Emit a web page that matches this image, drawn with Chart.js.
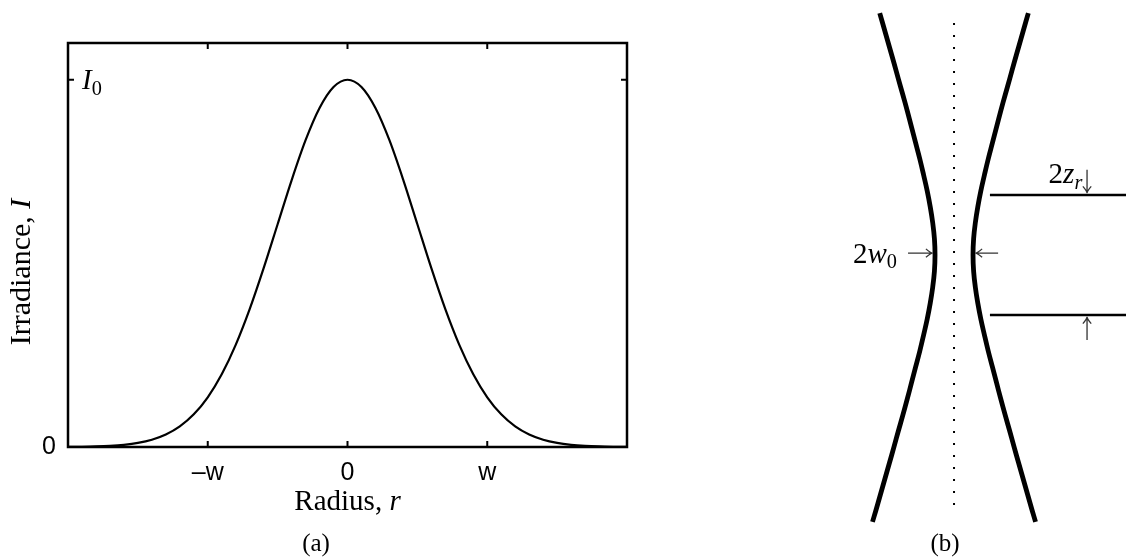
<!DOCTYPE html>
<html><head><meta charset="utf-8">
<script src="https://cdn.jsdelivr.net/npm/chart.js@4.4.1/dist/chart.umd.min.js"></script>
<style>
html,body{margin:0;padding:0;background:#fff;}
body{width:1126px;height:560px;position:relative;overflow:hidden;}
#ca{position:absolute;left:0;top:0;}
#cb{position:absolute;left:760px;top:0;}
</style></head><body>
<canvas id="ca" width="720" height="560"></canvas>
<canvas id="cb" width="366" height="560"></canvas>
<script>
// ---------- Panel (a): Gaussian irradiance profile ----------
const radius = [-2.0,-1.9,-1.8,-1.7,-1.6,-1.5,-1.4,-1.3,-1.2,-1.1,-1.0,-0.9,-0.8,-0.7,-0.6,-0.5,-0.4,-0.3,-0.2,-0.1,0.0,
                0.1,0.2,0.3,0.4,0.5,0.6,0.7,0.8,0.9,1.0,1.1,1.2,1.3,1.4,1.5,1.6,1.7,1.8,1.9,2.0];
const irradiance = [0.0003,0.0007,0.0015,0.0031,0.0060,0.0111,0.0198,0.0340,0.0561,0.0889,0.1353,0.1979,0.2780,0.3753,0.4868,0.6065,0.7261,0.8353,0.9231,0.9802,1.0,
                    0.9802,0.9231,0.8353,0.7261,0.6065,0.4868,0.3753,0.2780,0.1979,0.1353,0.0889,0.0561,0.0340,0.0198,0.0111,0.0060,0.0031,0.0015,0.0007,0.0003];
const xTickValues = [-1, 0, 1];
const xTickLabels = ['\u2013w', '0', 'w'];
const yTickValues = [0, 1];
const yTickLabels = ['0', ''];
const xRange = [-2, 2];
const yRange = [0, 1.1];

// ---------- Panel (b): Gaussian beam waist ----------
const beamZ = [3.78,3.5,3.25,3.0,2.75,2.5,2.25,2.0,1.75,1.5,1.25,1.0,0.75,0.5,0.25,0,-0.25,-0.5,-0.75,-1.0,-1.25,-1.5,-1.75,-2.0,-2.25,-2.5,-2.75,-3.0,-3.25,-3.5,-3.75,-4.0,-4.17];
const beamW = [3.91,3.64,3.40,3.16,2.93,2.69,2.46,2.24,2.02,1.80,1.60,1.41,1.25,1.12,1.03,1.00,1.03,1.12,1.25,1.41,1.60,1.80,2.02,2.24,2.46,2.69,2.93,3.16,3.40,3.64,3.88,4.12,4.29];
const axisZ = [3.625, -4.06];
const rayleighZ = [0.9375, -0.9375];
const rayleighX = [1.89, 9.3];
const bRangeX = [-10.21, 9.05];
const bRangeZ = [-4.766, 3.984];
// arrows: [x1, z1, x2, z2] tail -> tip
const arrows = [[-2.42, 0.03, -1.12, 0.03], [2.32, 0.03, 1.12, 0.03], [7.0, 1.33, 7.0, 0.965], [7.0, -1.33, 7.0, -0.965]];

const SERIF = "'Liberation Serif', 'Times New Roman', serif";
const SANS = "'Liberation Sans', Arial, sans-serif";

function rich(ctx, parts, x, y, align, size) {
  const fontOf = p => (p.it ? 'italic ' : '') + (p.sub ? size * 0.7 : size) + 'px ' + SERIF;
  let w = 0;
  parts.forEach(p => { ctx.font = fontOf(p); w += ctx.measureText(p.t).width; });
  let cx = align === 'center' ? x - w / 2 : align === 'right' ? x - w : x;
  ctx.textAlign = 'left';
  ctx.textBaseline = 'alphabetic';
  parts.forEach(p => {
    ctx.font = fontOf(p);
    ctx.fillText(p.t, cx, y + (p.sub ? size * 0.2 : 0));
    cx += ctx.measureText(p.t).width;
  });
}

const frameA = {
  id: 'frameA',
  afterDraw(chart) {
    const { ctx, chartArea: a, scales: { x, y } } = chart;
    ctx.save();
    ctx.strokeStyle = '#000';
    ctx.lineWidth = 2.5;
    ctx.strokeRect(a.left, a.top, a.right - a.left, a.bottom - a.top);
    const tl = 6;
    ctx.beginPath();
    xTickValues.forEach(v => {
      const px = x.getPixelForValue(v);
      ctx.moveTo(px, a.bottom); ctx.lineTo(px, a.bottom - tl);
      ctx.moveTo(px, a.top); ctx.lineTo(px, a.top + tl);
    });
    yTickValues.forEach(v => {
      const py = y.getPixelForValue(v);
      ctx.moveTo(a.left, py); ctx.lineTo(a.left + tl, py);
      ctx.moveTo(a.right, py); ctx.lineTo(a.right - tl, py);
    });
    ctx.lineWidth = 2;
    ctx.stroke();
    ctx.fillStyle = '#000';
    // I0 label inside
    rich(ctx, [{ t: 'I', it: true }, { t: '0', sub: true }], a.left + 14, y.getPixelForValue(1) + 9, 'left', 29);
    // x title
    rich(ctx, [{ t: 'Radius, ' }, { t: 'r', it: true }], (a.left + a.right) / 2, 510, 'center', 29);
    // y title
    ctx.save();
    ctx.translate(30, 272);
    ctx.rotate(-Math.PI / 2);
    rich(ctx, [{ t: 'Irradiance, ' }, { t: 'I', it: true }], 0, 0, 'center', 30);
    ctx.restore();
    // caption
    rich(ctx, [{ t: '(a)' }], 316, 551, 'center', 25);
    ctx.restore();
  }
};

new Chart(document.getElementById('ca'), {
  type: 'scatter',
  data: {
    datasets: [{
      data: radius.map((r, i) => ({ x: r, y: irradiance[i] })),
      showLine: true,
      borderColor: '#000',
      borderWidth: 2.2,
      pointRadius: 0,
      cubicInterpolationMode: 'monotone'
    }]
  },
  options: {
    responsive: false,
    animation: false,
    devicePixelRatio: 1,
    layout: { padding: { left: 0, top: 43, right: 93, bottom: 0 } },
    plugins: { legend: { display: false }, tooltip: { enabled: false } },
    scales: {
      x: {
        type: 'linear', min: xRange[0], max: xRange[1],
        afterBuildTicks: s => { s.ticks = xTickValues.map(v => ({ value: v })); },
        afterFit: s => { s.height = 113; },
        ticks: {
          callback: v => xTickLabels[xTickValues.indexOf(v)] ?? '',
          font: { family: SANS, size: 25 }, color: '#000', padding: 3, maxRotation: 0
        },
        grid: { display: false },
        border: { display: false }
      },
      y: {
        type: 'linear', min: yRange[0], max: yRange[1],
        afterBuildTicks: s => { s.ticks = yTickValues.map(v => ({ value: v })); },
        afterFit: s => { s.width = 68; },
        ticks: {
          callback: v => yTickLabels[yTickValues.indexOf(v)] ?? '',
          font: { family: SANS, size: 25 }, color: '#000', padding: 4
        },
        grid: { display: false },
        border: { display: false }
      }
    }
  },
  plugins: [frameA]
});

const annotB = {
  id: 'annotB',
  afterDraw(chart) {
    const { ctx, scales: { x, y } } = chart;
    ctx.save();
    ctx.strokeStyle = '#333';
    ctx.fillStyle = '#000';
    ctx.lineWidth = 1.3;
    arrows.forEach(([x1, z1, x2, z2]) => {
      const ax = x.getPixelForValue(x1), ay = y.getPixelForValue(z1);
      const bx = x.getPixelForValue(x2), by = y.getPixelForValue(z2);
      const ang = Math.atan2(by - ay, bx - ax);
      ctx.beginPath();
      ctx.moveTo(ax, ay); ctx.lineTo(bx, by);
      const h = 8, sp = 0.55;
      ctx.moveTo(bx - h * Math.cos(ang - sp), by - h * Math.sin(ang - sp));
      ctx.quadraticCurveTo(bx - 2 * Math.cos(ang), by - 2 * Math.sin(ang), bx, by);
      ctx.quadraticCurveTo(bx - 2 * Math.cos(ang), by - 2 * Math.sin(ang), bx - h * Math.cos(ang + sp), by - h * Math.sin(ang + sp));
      ctx.stroke();
    });
    rich(ctx, [{ t: '2' }, { t: 'w', it: true }, { t: '0', sub: true }], x.getPixelForValue(-3.0), y.getPixelForValue(-0.12), 'right', 29);
    rich(ctx, [{ t: '2' }, { t: 'z', it: true }, { t: 'r', it: true, sub: true }], x.getPixelForValue(6.75), y.getPixelForValue(1.12), 'right', 29);
    rich(ctx, [{ t: '(b)' }], x.getPixelForValue(-0.47), y.getPixelForValue(-4.62), 'center', 25);
    ctx.restore();
  }
};

const lineStyle = { showLine: true, pointRadius: 0, borderColor: '#000', fill: false };
new Chart(document.getElementById('cb'), {
  type: 'scatter',
  data: {
    datasets: [
      Object.assign({ data: beamZ.map((z, i) => ({ x: -beamW[i], y: z })), borderWidth: 4.8, tension: 0.4 }, lineStyle),
      Object.assign({ data: beamZ.map((z, i) => ({ x: beamW[i], y: z })), borderWidth: 4.8, tension: 0.4 }, lineStyle),
      Object.assign({ data: axisZ.map(z => ({ x: 0, y: z })), borderWidth: 2, borderDash: [2, 10] }, lineStyle),
      Object.assign({ data: rayleighX.map(xv => ({ x: xv, y: rayleighZ[0] })), borderWidth: 2.4 }, lineStyle),
      Object.assign({ data: rayleighX.map(xv => ({ x: xv, y: rayleighZ[1] })), borderWidth: 2.4 }, lineStyle)
    ]
  },
  options: {
    responsive: false,
    animation: false,
    devicePixelRatio: 1,
    layout: { padding: 0 },
    plugins: { legend: { display: false }, tooltip: { enabled: false } },
    scales: {
      x: { type: 'linear', display: false, min: bRangeX[0], max: bRangeX[1] },
      y: { type: 'linear', display: false, min: bRangeZ[0], max: bRangeZ[1] }
    }
  },
  plugins: [annotB]
});
</script>
</body></html>
